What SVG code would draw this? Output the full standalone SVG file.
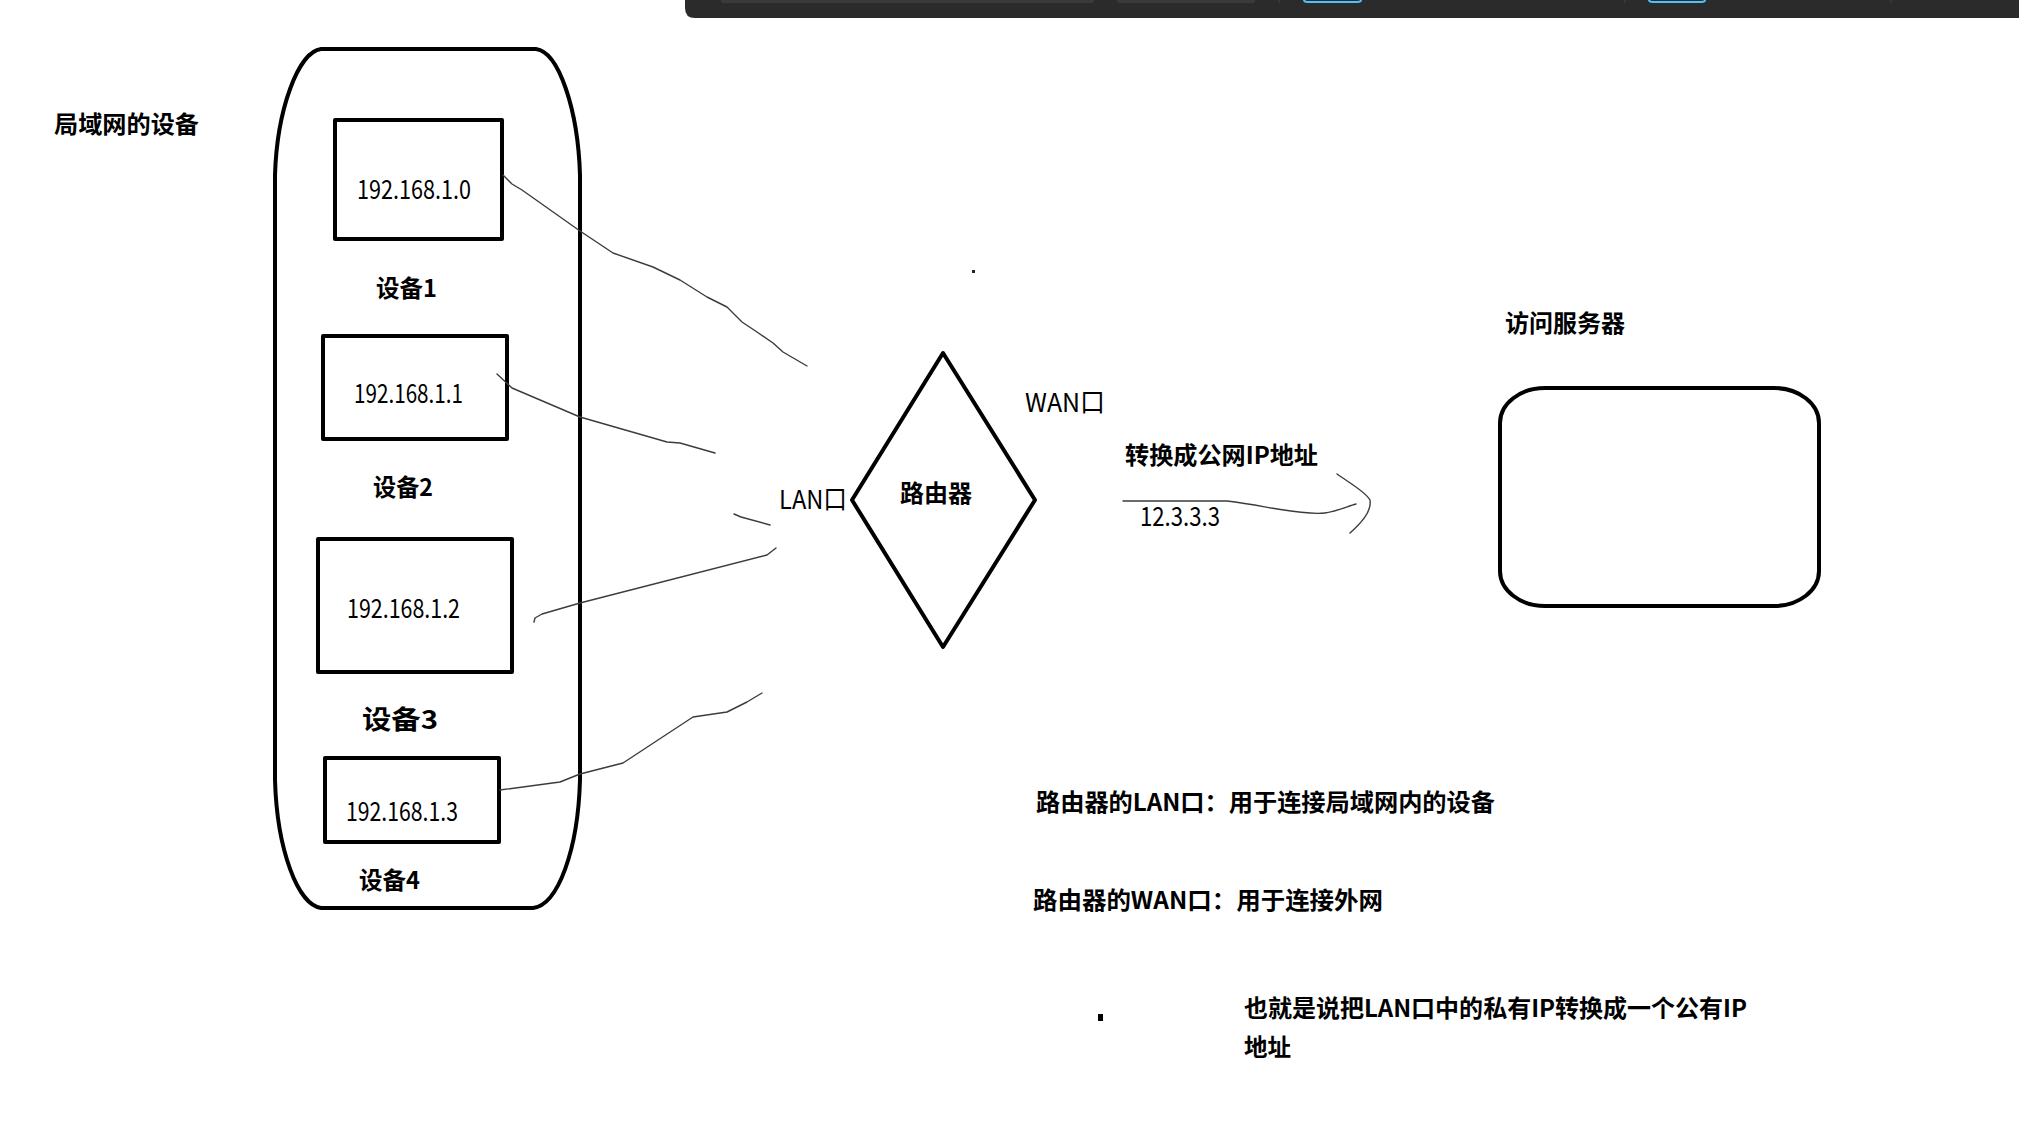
<svg xmlns="http://www.w3.org/2000/svg" width="2019" height="1143" viewBox="0 0 2019 1143">
<style>
  .shape { fill: none; stroke: #000; stroke-width: 4; stroke-linejoin: round; }
  .conn { fill: none; stroke: #3c3c3c; stroke-width: 1.4; stroke-linecap: round; stroke-linejoin: round; }
  .b { font-family: "Noto Sans CJK SC", "Noto Sans", sans-serif; font-weight: bold; font-size: 24px; fill: #000; }
  .n { font-family: "Noto Sans CJK SC", "Noto Sans", sans-serif; font-weight: normal; font-size: 26px; fill: #000; }
</style>
<rect width="2019" height="1143" fill="#fff"/>

<g id="toolbar">
  <path d="M685,0 L2019,0 L2019,18 L695,18 Q685,18 685,8 Z" fill="#2b2b2b"/>
  <path d="M721,0 L721,1 Q721,3 724,3 L1091,3 Q1094,3 1094,1 L1094,0 Z" fill="#3a3a3a"/>
  <path d="M1117,0 L1117,1 Q1117,3 1120,3 L1252,3 Q1255,3 1255,1 L1255,0 Z" fill="#3a3a3a"/>
  <line x1="1279" y1="0" x2="1279" y2="3" stroke="#444" stroke-width="1"/>
  <line x1="1625" y1="0" x2="1625" y2="3" stroke="#444" stroke-width="1"/>
  <line x1="1891" y1="0" x2="1891" y2="3" stroke="#444" stroke-width="1"/>
  <path d="M1304,0 Q1304,2 1308,2 L1357,2 Q1361,2 1361,0" fill="none" stroke="#4fc3f7" stroke-width="2"/>
  <path d="M1649,0 Q1649,2 1653,2 L1701,2 Q1705,2 1705,0" fill="none" stroke="#4fc3f7" stroke-width="2"/>
</g>

<g id="lan-label">
  <text class="b" x="54" y="133" textLength="145" lengthAdjust="spacingAndGlyphs">局域网的设备</text>
</g>

<g id="lan-container">
  <path class="shape" d="M321,49 L536,49 C559,52 578,110 580,175 L580,780 C578,850 558,905 533,908 L321,908 C298,905 277,850 275,780 L275,175 C277,110 298,52 321,49 Z"/>
</g>

<g id="device1">
  <rect class="shape" x="335" y="120" width="167" height="119"/>
  <text class="n" x="357" y="199" textLength="114" lengthAdjust="spacingAndGlyphs">192.168.1.0</text>
  <text class="b" x="376" y="297" textLength="61" lengthAdjust="spacingAndGlyphs">设备1</text>
</g>

<g id="device2">
  <rect class="shape" x="323" y="336" width="184" height="103"/>
  <text class="n" x="354" y="403" textLength="109" lengthAdjust="spacingAndGlyphs">192.168.1.1</text>
  <text class="b" x="373" y="496" textLength="60" lengthAdjust="spacingAndGlyphs">设备2</text>
</g>

<g id="device3">
  <rect class="shape" x="318" y="539" width="194" height="133"/>
  <text class="n" x="347" y="618" textLength="113" lengthAdjust="spacingAndGlyphs">192.168.1.2</text>
  <text class="b" x="362" y="729" style="font-size:26px" textLength="76" lengthAdjust="spacingAndGlyphs">设备3</text>
</g>

<g id="device4">
  <rect class="shape" x="325" y="758" width="174" height="84"/>
  <text class="n" x="346" y="821" textLength="112" lengthAdjust="spacingAndGlyphs">192.168.1.3</text>
  <text class="b" x="359" y="889" textLength="61" lengthAdjust="spacingAndGlyphs">设备4</text>
</g>

<g id="router">
  <path class="shape" d="M943,353 L1035,500 L943,647 L852,500 Z"/>
  <text class="b" x="900" y="502" textLength="72" lengthAdjust="spacingAndGlyphs">路由器</text>
  <text class="n" x="779" y="509" textLength="68" lengthAdjust="spacingAndGlyphs">LAN口</text>
  <text class="n" x="1025" y="412" textLength="80" lengthAdjust="spacingAndGlyphs">WAN口</text>
</g>

<g id="server">
  <text class="b" x="1505" y="332" textLength="120" lengthAdjust="spacingAndGlyphs">访问服务器</text>
  <rect class="shape" x="1500" y="388" width="319" height="218" rx="45" ry="35"/>
</g>

<g id="wan-labels">
  <text class="b" x="1125" y="464" textLength="193" lengthAdjust="spacingAndGlyphs">转换成公网IP地址</text>
  <text class="n" x="1140" y="526" textLength="80" lengthAdjust="spacingAndGlyphs">12.3.3.3</text>
</g>

<g id="connectors">
  <path class="conn" d="M503,175 L512,184 L522,190 L580,231 L613,253 L653,267 L680,280 L707,297 L727,307 L742,322 L757,332 L773,343 L783,352 L807,366"/>
  <path class="conn" d="M497,374 L512,388 L580,417 L667,442 L680,443 L715,453"/>
  <path class="conn" d="M734,514 L741,517 L770,525"/>
  <path class="conn" d="M534,622 L535,618 L542,614 L580,603 L767,555 L776,548"/>
  <path class="conn" d="M500,790 L560,782 L580,774 L623,763 L693,717 L727,712 L747,702 L762,693"/>
  <path class="conn" d="M1123,501 L1227,501 C1245,503 1260,506 1271,508 C1290,511 1310,515 1325,513 C1338,511 1348,506 1356,504"/>
  <path class="conn" d="M1337,474 C1348,482 1366,492 1370,500 C1372,512 1360,524 1350,533"/>
</g>

<g id="notes">
  <text class="b" x="1036" y="811" textLength="459" lengthAdjust="spacingAndGlyphs">路由器的LAN口：用于连接局域网内的设备</text>
  <text class="b" x="1033" y="909" textLength="350" lengthAdjust="spacingAndGlyphs">路由器的WAN口：用于连接外网</text>
  <text class="b" x="1244" y="1017" textLength="503" lengthAdjust="spacingAndGlyphs">也就是说把LAN口中的私有IP转换成一个公有IP</text>
  <text class="b" x="1244" y="1056" textLength="47" lengthAdjust="spacingAndGlyphs">地址</text>
  <rect x="1098" y="1014" width="5" height="7" fill="#000"/>
  <rect x="972" y="270" width="3" height="3" fill="#222"/>
</g>
</svg>
